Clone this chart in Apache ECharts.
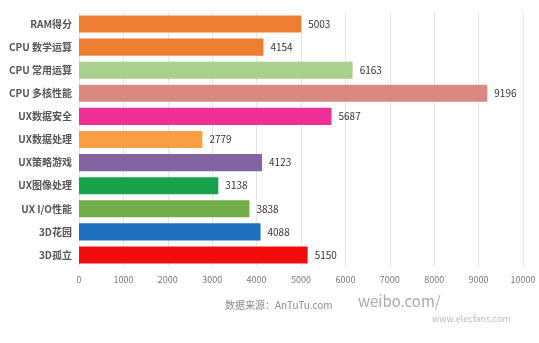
<!DOCTYPE html>
<html>
<head>
<meta charset="utf-8">
<script src="https://cdn.jsdelivr.net/npm/echarts@6/dist/echarts.min.js"></script>
<style>
  html, body { margin: 0; padding: 0; background: #ffffff; }
  #chart { width: 539px; height: 343px; }
</style>
</head>
<body>
<div id="chart"></div>
<script>
// AnTuTu benchmark sub-scores
const categories = ['RAM得分', 'CPU 数学运算', 'CPU 常用运算', 'CPU 多核性能', 'UX数据安全',
  'UX数据处理', 'UX策略游戏', 'UX图像处理', 'UX I/O性能', '3D花园', '3D孤立'];
const scores = [5003, 4154, 6163, 9196, 5687, 2779, 4123, 3138, 3838, 4088, 5150];
const barColors = ['#ED7D31', '#ED7D31', '#A9D18E', '#D98982', '#EE2F95', '#F89E43',
  '#8164A1', '#17A24B', '#71AD48', '#1E6FC0', '#F20D0D'];
const xTicks = [0, 1000, 2000, 3000, 4000, 5000, 6000, 7000, 8000, 9000, 10000];

const chart = echarts.init(document.getElementById('chart'));
const font = '"Noto Sans CJK SC", "Noto Sans", sans-serif';

chart.setOption({
  backgroundColor: '#ffffff',
  animation: false,
  grid: { left: 79, right: 16, top: 12.5, bottom: 76.5, containLabel: false },
  xAxis: {
    type: 'value',
    min: xTicks[0],
    max: xTicks[xTicks.length - 1],
    interval: 1000,
    axisLine: { show: false },
    axisTick: { show: false },
    splitLine: { show: true, lineStyle: { color: '#e4e4e4', width: 1 } },
    axisLabel: { color: '#777', fontSize: 9, fontFamily: font, margin: 9,
      formatter: v => String(v) }
  },
  yAxis: {
    type: 'category',
    inverse: true,
    data: categories,
    axisLine: { show: false },
    axisTick: { show: false },
    axisLabel: { color: '#555', fontSize: 10, fontWeight: 'bold', fontFamily: font, margin: 7 }
  },
  series: [{
    type: 'bar',
    data: scores.map((v, i) => ({ value: v, itemStyle: { color: barColors[i] } })),
    barCategoryGap: '26%',
    label: {
      show: true,
      position: 'right',
      distance: 7,
      color: '#333',
      fontSize: 10,
      fontFamily: font
    }
  }],
  graphic: [
    {
      type: 'text', left: 225, top: 300,
      style: { text: '数据来源：AnTuTu.com', fill: '#888', fontSize: 10, fontFamily: font }
    },
    {
      type: 'text', left: 358, top: 294,
      style: { text: 'weibo.com/', fill: '#aaa', fontSize: 15, fontFamily: font }
    },
    {
      type: 'text', left: 432, top: 314,
      style: { text: 'www.elecfans.com', fill: '#bbb', fontSize: 9, fontFamily: font }
    }
  ]
});
</script>
</body>
</html>
